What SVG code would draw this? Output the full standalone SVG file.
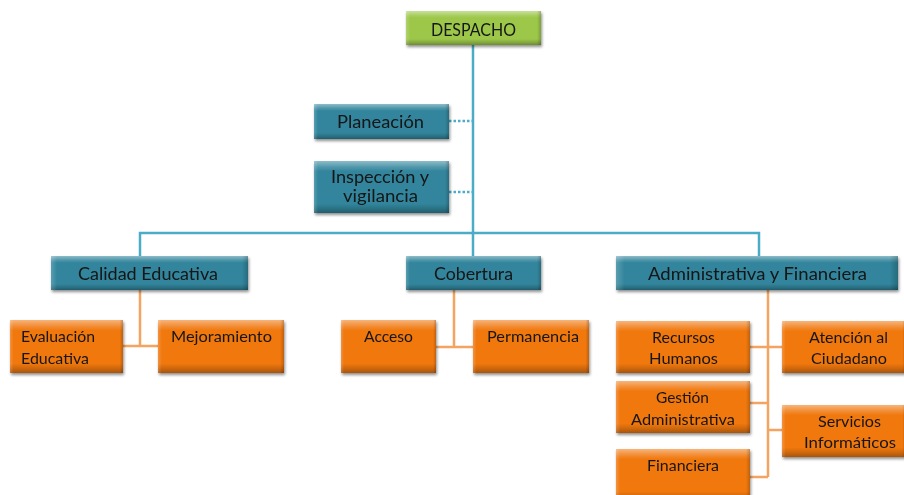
<svg xmlns="http://www.w3.org/2000/svg" width="904" height="495" viewBox="0 0 904 495">
<defs>
<linearGradient id="vshade" x1="0" y1="0" x2="0" y2="1">
<stop offset="0" stop-color="#fff" stop-opacity="0.45"/>
<stop offset="0.12" stop-color="#fff" stop-opacity="0.15"/>
<stop offset="0.2" stop-color="#fff" stop-opacity="0"/>
<stop offset="0.82" stop-color="#000" stop-opacity="0"/>
<stop offset="0.9" stop-color="#000" stop-opacity="0.12"/>
<stop offset="1" stop-color="#000" stop-opacity="0.3"/>
</linearGradient>
<linearGradient id="hshade" x1="0" y1="0" x2="1" y2="0">
<stop offset="0" stop-color="#fff" stop-opacity="0.2"/>
<stop offset="0.03" stop-color="#fff" stop-opacity="0"/>
<stop offset="0.97" stop-color="#000" stop-opacity="0"/>
<stop offset="1" stop-color="#000" stop-opacity="0.2"/>
</linearGradient>
<filter id="sh" x="-10%" y="-20%" width="120%" height="150%">
<feGaussianBlur in="SourceAlpha" stdDeviation="1.5"/>
<feOffset dx="1" dy="2" result="b"/>
<feComponentTransfer><feFuncA type="linear" slope="0.45"/></feComponentTransfer>
<feMerge><feMergeNode/><feMergeNode in="SourceGraphic"/></feMerge>
</filter>
</defs>
<style>
.g{fill:#9dc74a}
.t{fill:#31859c}
.o{fill:#f0780f}
.box{filter:url(#sh)}
.v{fill:url(#vshade)}
.h{fill:url(#hshade)}
text{font-family:Lato,"Liberation Sans",Arial,sans-serif;fill:#161616}
.lt{font-size:16.5px}
.lo{font-size:16px}
.ct{stroke:#4bacc6;stroke-width:2.5;fill:none}
.co{stroke:#f4a460;stroke-width:2.5;fill:none}
.dot{stroke:#4bacc6;stroke-width:2.5;stroke-dasharray:2.5 2;fill:none}
</style>
<rect width="904" height="495" fill="#fff"/>
<g id="connectors">
<path class="ct" d="M473 45V233M140 256V233H759V256M473 233V256"/>
<path class="dot" d="M449 121H473M449 192H473"/>
<path class="co" d="M140 290V346M123 346H158"/>
<path class="co" d="M454 290V347M436 347H473"/>
<path class="co" d="M768 290V477M750 347H782M750 403H768M768 430H782M750 477H768"/>
</g>
<g id="despacho" class="box"><rect class="g" x="406" y="11" width="135" height="34"/><rect class="v" x="406" y="11" width="135" height="34"/><rect class="h" x="406" y="11" width="135" height="34"/><text class="lt" x="431" y="36" textLength="85" lengthAdjust="spacingAndGlyphs">DESPACHO</text></g>
<g id="planeacion" class="box"><rect class="t" x="314" y="104" width="135" height="35"/><rect class="v" x="314" y="104" width="135" height="35"/><rect class="h" x="314" y="104" width="135" height="35"/><text class="lt" x="337" y="128" textLength="87" lengthAdjust="spacingAndGlyphs">Planeación</text></g>
<g id="inspeccion" class="box"><rect class="t" x="314" y="161" width="135" height="52"/><rect class="v" x="314" y="161" width="135" height="52"/><rect class="h" x="314" y="161" width="135" height="52"/><text class="lt" x="331" y="183" textLength="98" lengthAdjust="spacingAndGlyphs">Inspección y</text><text class="lt" x="343" y="202" textLength="75" lengthAdjust="spacingAndGlyphs">vigilancia</text></g>
<g id="calidad" class="box"><rect class="t" x="51" y="256" width="197" height="34"/><rect class="v" x="51" y="256" width="197" height="34"/><rect class="h" x="51" y="256" width="197" height="34"/><text class="lt" x="78" y="280" textLength="140" lengthAdjust="spacingAndGlyphs">Calidad Educativa</text></g>
<g id="cobertura" class="box"><rect class="t" x="406" y="256" width="135" height="34"/><rect class="v" x="406" y="256" width="135" height="34"/><rect class="h" x="406" y="256" width="135" height="34"/><text class="lt" x="434" y="280" textLength="79" lengthAdjust="spacingAndGlyphs">Cobertura</text></g>
<g id="administrativa" class="box"><rect class="t" x="616" y="256" width="282" height="34"/><rect class="v" x="616" y="256" width="282" height="34"/><rect class="h" x="616" y="256" width="282" height="34"/><text class="lt" x="648" y="280" textLength="219" lengthAdjust="spacingAndGlyphs">Administrativa y Financiera</text></g>
<g id="evaluacion" class="box"><rect class="o" x="10" y="320" width="113" height="53"/><rect class="v" x="10" y="320" width="113" height="53"/><rect class="h" x="10" y="320" width="113" height="53"/><text class="lo" x="21" y="342" textLength="74" lengthAdjust="spacingAndGlyphs">Evaluación</text><text class="lo" x="21" y="364" textLength="68" lengthAdjust="spacingAndGlyphs">Educativa</text></g>
<g id="mejoramiento" class="box"><rect class="o" x="158" y="320" width="126" height="53"/><rect class="v" x="158" y="320" width="126" height="53"/><rect class="h" x="158" y="320" width="126" height="53"/><text class="lo" x="171" y="342" textLength="101" lengthAdjust="spacingAndGlyphs">Mejoramiento</text></g>
<g id="acceso" class="box"><rect class="o" x="341" y="320" width="95" height="53"/><rect class="v" x="341" y="320" width="95" height="53"/><rect class="h" x="341" y="320" width="95" height="53"/><text class="lo" x="364" y="342" textLength="49" lengthAdjust="spacingAndGlyphs">Acceso</text></g>
<g id="permanencia" class="box"><rect class="o" x="473" y="320" width="116" height="53"/><rect class="v" x="473" y="320" width="116" height="53"/><rect class="h" x="473" y="320" width="116" height="53"/><text class="lo" x="487" y="342" textLength="92" lengthAdjust="spacingAndGlyphs">Permanencia</text></g>
<g id="recursos" class="box"><rect class="o" x="616" y="321" width="134" height="52"/><rect class="v" x="616" y="321" width="134" height="52"/><rect class="h" x="616" y="321" width="134" height="52"/><text class="lo" x="652" y="343" textLength="63" lengthAdjust="spacingAndGlyphs">Recursos</text><text class="lo" x="649" y="364" textLength="69" lengthAdjust="spacingAndGlyphs">Humanos</text></g>
<g id="atencion" class="box"><rect class="o" x="782" y="321" width="124" height="52"/><rect class="v" x="782" y="321" width="124" height="52"/><rect class="h" x="782" y="321" width="124" height="52"/><text class="lo" x="809" y="343" textLength="79" lengthAdjust="spacingAndGlyphs">Atención al</text><text class="lo" x="811" y="364" textLength="76" lengthAdjust="spacingAndGlyphs">Ciudadano</text></g>
<g id="gestion" class="box"><rect class="o" x="616" y="381" width="134" height="52"/><rect class="v" x="616" y="381" width="134" height="52"/><rect class="h" x="616" y="381" width="134" height="52"/><text class="lo" x="656" y="403" textLength="53" lengthAdjust="spacingAndGlyphs">Gestión</text><text class="lo" x="631" y="425" textLength="104" lengthAdjust="spacingAndGlyphs">Administrativa</text></g>
<g id="servicios" class="box"><rect class="o" x="782" y="405" width="124" height="52"/><rect class="v" x="782" y="405" width="124" height="52"/><rect class="h" x="782" y="405" width="124" height="52"/><text class="lo" x="818" y="427" textLength="63" lengthAdjust="spacingAndGlyphs">Servicios</text><text class="lo" x="804" y="448" textLength="92" lengthAdjust="spacingAndGlyphs">Informáticos</text></g>
<g id="financiera" class="box"><rect class="o" x="616" y="449" width="134" height="52"/><rect class="v" x="616" y="449" width="134" height="52"/><rect class="h" x="616" y="449" width="134" height="52"/><text class="lo" x="647" y="471" textLength="72" lengthAdjust="spacingAndGlyphs">Financiera</text></g>
</svg>
